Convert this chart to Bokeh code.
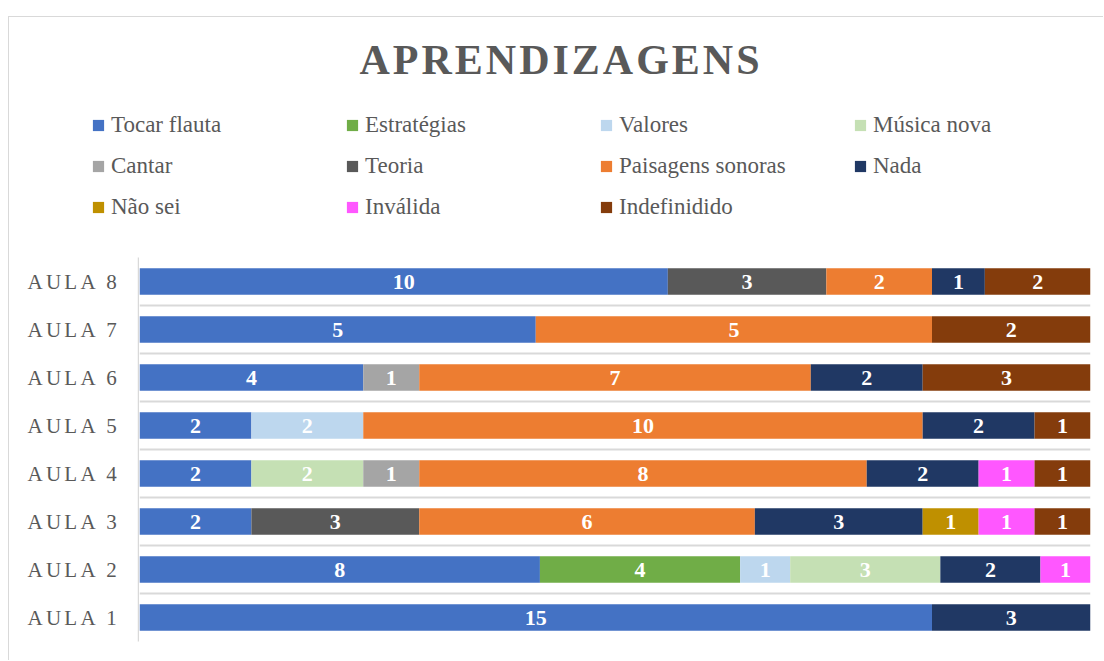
import numpy as np
import pandas as pd
from bokeh.plotting import figure
from bokeh.layouts import column, row
from bokeh.models import ColumnDataSource, Range1d, FixedTicker, Legend, Label
from bokeh.core.properties import value
from bokeh.embed import file_html
from bokeh.resources import INLINE

# ---------------- data ----------------
aulas = ["AULA 1", "AULA 2", "AULA 3", "AULA 4", "AULA 5", "AULA 6", "AULA 7", "AULA 8"]
series = ["Tocar flauta", "Estratégias", "Valores", "Música nova", "Cantar", "Teoria",
          "Paisagens sonoras", "Nada", "Não sei", "Inválida", "Indefinidido"]
tocar_flauta = [15, 8, 2, 2, 2, 4, 5, 10]
estrategias = [0, 4, 0, 0, 0, 0, 0, 0]
valores = [0, 1, 0, 0, 2, 0, 0, 0]
musica_nova = [0, 3, 0, 2, 0, 0, 0, 0]
cantar = [0, 0, 0, 1, 0, 1, 0, 0]
teoria = [0, 0, 3, 0, 0, 0, 0, 3]
paisagens_sonoras = [0, 0, 6, 8, 10, 7, 5, 2]
nada = [3, 2, 3, 2, 2, 2, 0, 1]
nao_sei = [0, 0, 1, 0, 0, 0, 0, 0]
invalida = [0, 1, 1, 1, 0, 0, 0, 0]
indefinidido = [0, 0, 1, 1, 1, 3, 2, 2]
colors = ["#4472C4", "#70AD47", "#BDD7EE", "#C5E0B4", "#A5A5A5", "#595959",
          "#ED7D31", "#203864", "#BF9000", "#FF57FF", "#843C0C"]
title_text = "APRENDIZAGENS"

values = [tocar_flauta, estrategias, valores, musica_nova, cantar, teoria,
          paisagens_sonoras, nada, nao_sei, invalida, indefinidido]

# ---------------- derived ----------------
keys = [f"s{i}" for i in range(len(series))]
counts = pd.DataFrame({k: v for k, v in zip(keys, values)})
totals = counts.sum(axis=1)
frac = counts.div(totals, axis=0)
ypos = np.arange(1, len(aulas) + 1)
frac["y"] = ypos
source = ColumnDataSource(frac)

lx, ly, lt = [], [], []
cum = frac[keys].cumsum(axis=1)
for r in range(len(aulas)):
    for k in keys:
        c = counts.iloc[r][k]
        if c > 0:
            lx.append(cum.iloc[r][k] - frac.iloc[r][k] / 2)
            ly.append(ypos[r])
            lt.append(str(int(c)))
lsrc = ColumnDataSource(dict(x=lx, y=ly, t=lt))

FONT = "Liberation Serif"
GREY = "#595959"
LINE = "#d9d9d9"
W = 1094

def bare(fig):
    fig.outline_line_color = None
    fig.background_fill_color = "white"
    fig.border_fill_color = "white"
    return fig

# ---------------- title ----------------
pt = bare(figure(width=W, height=83, output_backend="svg", toolbar_location=None,
                 x_range=Range1d(0, 1), y_range=Range1d(0, 1),
                 x_axis_location=None, y_axis_location=None,
                 min_border=0))
pt.grid.visible = False
pt.styles = {"letter-spacing": "3px"}
pt.add_layout(Label(x=532, y=41, x_units="screen", y_units="screen", text=title_text,
                    text_font=FONT, text_font_size="42px", text_font_style="bold",
                    text_color=GREY, text_align="center", text_baseline="alphabetic"))

# ---------------- legend ----------------
# legend-only panel: the same stacked bars, hidden, provide the legend swatches
pl = bare(figure(width=W, height=135, output_backend="svg", toolbar_location=None,
                 x_range=Range1d(0, 1), y_range=Range1d(0, 1),
                 x_axis_location=None, y_axis_location=None,
                 min_border=0))
pl.grid.visible = False
hidden = pl.hbar_stack(keys, y="y", height=0.55, color=colors, source=source, line_color=None)
for r in hidden:
    r.visible = False
legend = Legend(items=[(s, [r]) for s, r in zip(series, hidden)],
                location=(82, 8), orientation="horizontal", ncols=4,
                glyph_width=14, glyph_height=14, label_standoff=6, label_width=234,
                label_height=41, spacing=0, padding=0, margin=0,
                border_line_color=None, background_fill_alpha=0,
                inactive_fill_alpha=0, click_policy="none",
                label_text_font=FONT, label_text_font_size="23px",
                label_text_color=GREY)
pl.add_layout(legend, "center")

# ---------------- axis labels ----------------
yr = Range1d(0.5, len(aulas) + 0.5)
pa = bare(figure(width=130, height=425, output_backend="svg", toolbar_location=None,
                 x_range=Range1d(0, 1), y_range=yr, x_axis_location=None,
                 min_border_left=129, min_border_right=0,
                 min_border_top=22, min_border_bottom=19))
pa.grid.visible = False
pa.styles = {"letter-spacing": "3.3px"}
yax = pa.yaxis[0]
yax.ticker = FixedTicker(ticks=list(ypos))
yax.major_label_overrides = {int(v): a for v, a in zip(ypos, aulas)}
yax.major_label_text_font = FONT
yax.major_label_text_font_size = "21px"
yax.major_label_text_color = GREY
yax.major_tick_line_color = None
yax.minor_tick_line_color = None
yax.axis_line_color = LINE
yax.axis_line_width = 1.5
yax.major_label_standoff = 31

# ---------------- bars ----------------
pb = bare(figure(width=W - 130, height=425, output_backend="svg", toolbar_location=None,
                 x_range=Range1d(0, 1), y_range=yr,
                 x_axis_location=None, y_axis_location=None,
                 min_border_left=0, min_border_right=13,
                 min_border_top=22, min_border_bottom=19))
pb.xgrid.visible = False
pb.ygrid.ticker = FixedTicker(ticks=list(np.arange(0.5, len(aulas) + 1, 1.0)))
pb.ygrid.grid_line_color = LINE
pb.ygrid.grid_line_width = 2

pb.hbar_stack(keys, y="y", height=0.55, color=colors, source=source, line_color=None)
pb.text(x="x", y="y", text="t", source=lsrc, text_font=value(FONT), text_font_style="bold",
        text_font_size="22px", text_color="white",
        text_align="center", text_baseline="middle")

layout = column(pt, pl, row(pa, pb, spacing=0), spacing=0,
                styles={"border-top": "1px solid " + LINE, "border-left": "1px solid " + LINE,
                        "margin-left": "8px", "margin-top": "16px"})

open("out.html", "w").write(file_html(layout, INLINE))
